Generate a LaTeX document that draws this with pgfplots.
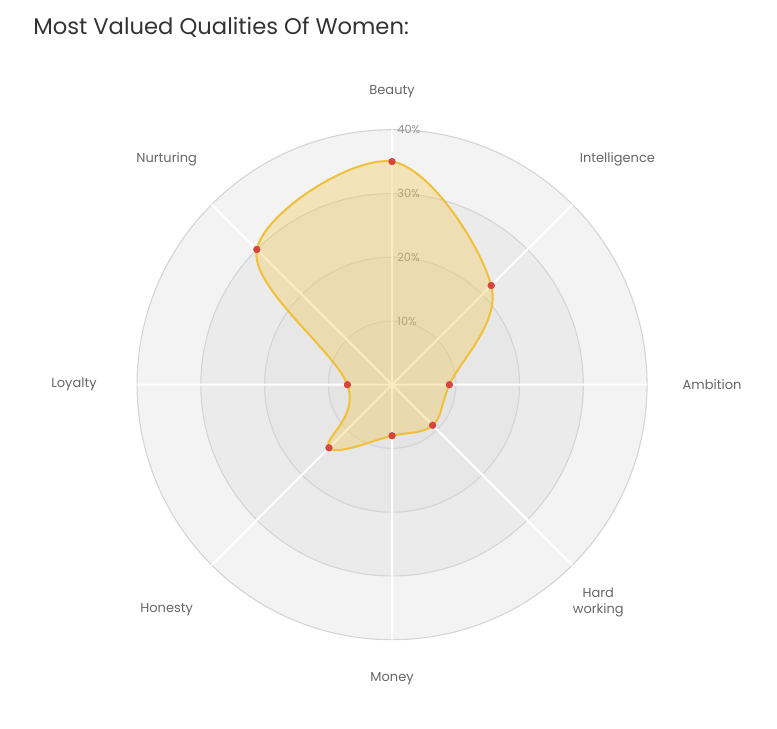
\documentclass[border=0pt]{standalone}
\usepackage{pgfplots}
\pgfplotsset{compat=1.18}
\usepgfplotslibrary{polar}
\usetikzlibrary{calc}
\usepackage{fontspec}
\setmainfont{Poppins}
\definecolor{bandA}{HTML}{F3F3F3}
\definecolor{bandB}{HTML}{EBEBEB}
\definecolor{bandC}{HTML}{E7E7E7}
\definecolor{bandD}{HTML}{E4E4E4}
\definecolor{ringc}{HTML}{D4D4D4}
\definecolor{lineY}{HTML}{F0C03A}
\definecolor{fillY}{HTML}{F2C84B}
\definecolor{dotR}{HTML}{D8443C}
\definecolor{labc}{HTML}{666666}
\definecolor{tickc}{HTML}{929292}
\definecolor{titc}{HTML}{333333}
\pgfdeclarelayer{bg}
\pgfsetlayers{bg,main}
\tikzset{lab/.style={font=\fontsize{9.75}{12}\selectfont, text=labc}}
\begin{document}
\begin{tikzpicture}[x=0.75pt,y=0.75pt]
\useasboundingbox (0,0) rectangle (777,728);
\node[anchor=base west, inner sep=0pt, text=titc, font=\fontsize{17}{20}\selectfont] at (33,693) {Most Valued Qualities Of Women:};
\begin{polaraxis}[
  at={(615,538.5)}, anchor=center,
  scale only axis, width=382.5pt, height=382.5pt,
  ymin=0, ymax=40, hide axis, clip=false
]
\coordinate (O) at (axis cs:0,0);
\coordinate (R) at (axis cs:90,10);
\coordinate (E0) at (axis cs:0,40);
\coordinate (E45) at (axis cs:45,40);
\coordinate (E90) at (axis cs:90,40);
\coordinate (E135) at (axis cs:135,40);
\coordinate (E180) at (axis cs:180,40);
\coordinate (E225) at (axis cs:225,40);
\coordinate (E270) at (axis cs:270,40);
\coordinate (E315) at (axis cs:315,40);
\coordinate (T10) at (axis cs:90,10);
\coordinate (T20) at (axis cs:90,20);
\coordinate (T30) at (axis cs:90,30);
\coordinate (T40) at (axis cs:90,40);
% data
\addplot[smooth cycle, tension=0.6, draw=lineY, line width=1.5pt, fill=fillY, fill opacity=0.35, draw opacity=1]
  coordinates {(90,35) (45,22) (0,9) (315,9) (270,8) (225,14) (180,7) (135,30)};
\addplot[only marks, mark=*, mark size=2.5pt, color=dotR]
  coordinates {(90,35) (45,22) (0,9) (315,9) (270,8) (225,14) (180,7) (135,30)};
% category labels
\node[lab] at (axis cs:90,45.9) {Beauty};
\node[lab] at (axis cs:45,50) {Intelligence};
\node[lab] at (axis cs:0,50.2) {Ambition};
\node[lab, align=center] at (axis cs:313.5,47) {Hard\\working};
\node[lab] at (axis cs:270,46.1) {Money};
\node[lab] at (axis cs:225,50) {Honesty};
\node[lab] at (axis cs:180,49.9) {Loyalty};
\node[lab] at (axis cs:135,50) {Nurturing};
\end{polaraxis}
\begin{pgfonlayer}{bg}
\path let \p1=(O), \p2=(R), \n1={veclen(\x2-\x1,\y2-\y1)} in
  [fill=bandA] (O) circle[radius=4*\n1];
\path let \p1=(O), \p2=(R), \n1={veclen(\x2-\x1,\y2-\y1)} in
  [fill=bandB] (O) circle[radius=3*\n1];
\path let \p1=(O), \p2=(R), \n1={veclen(\x2-\x1,\y2-\y1)} in
  [fill=bandC] (O) circle[radius=2*\n1];
\path let \p1=(O), \p2=(R), \n1={veclen(\x2-\x1,\y2-\y1)} in
  [fill=bandD] (O) circle[radius=\n1];
\path let \p1=(O), \p2=(R), \n1={veclen(\x2-\x1,\y2-\y1)} in
  [draw=ringc, line width=0.8pt] (O) circle[radius=4*\n1] (O) circle[radius=3*\n1]
  (O) circle[radius=2*\n1] (O) circle[radius=\n1];
\draw[white, line width=1.5pt] (E0) -- (E180) (E90) -- (E270) (E45) -- (E225) (E135) -- (E315);
\node[anchor=west, inner sep=0pt, xshift=3.8pt, text=tickc, font=\fontsize{8.5}{10}\selectfont] at (T10) {10\%};
\node[anchor=west, inner sep=0pt, xshift=3.8pt, text=tickc, font=\fontsize{8.5}{10}\selectfont] at (T20) {20\%};
\node[anchor=west, inner sep=0pt, xshift=3.8pt, text=tickc, font=\fontsize{8.5}{10}\selectfont] at (T30) {30\%};
\node[anchor=west, inner sep=0pt, xshift=3.8pt, text=tickc, font=\fontsize{8.5}{10}\selectfont] at (T40) {40\%};
\end{pgfonlayer}
\end{tikzpicture}
\end{document}
